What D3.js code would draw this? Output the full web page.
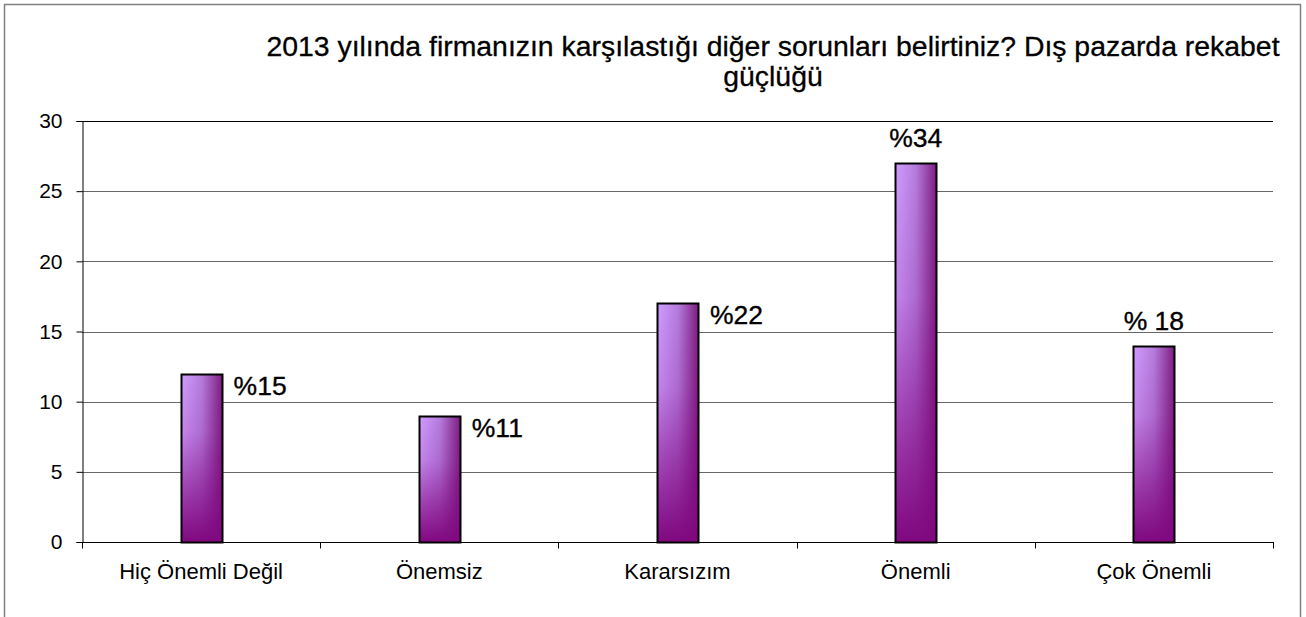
<!DOCTYPE html>
<html><head><meta charset="utf-8">
<script src="https://cdn.jsdelivr.net/npm/d3@7"></script>
<style>body{margin:0;background:#fff;font-family:Arial,"Liberation Sans",sans-serif;}</style>
</head><body><svg id="c" width="1306" height="617"></svg>
<script>
const categories = ["Hiç Önemli Değil","Önemsiz","Kararsızım","Önemli","Çok Önemli"];
const values = [12, 9, 17, 27, 14];
const labels = ["%15","%11","%22","%34","% 18"];
const labelPos = ["right","right","right","top","top"];
const yTicks = [0,5,10,15,20,25,30];
const titleLines = ["2013 yılında firmanızın karşılastığı diğer sorunları belirtiniz? Dış pazarda rekabet","güçlüğü"];

const svg = d3.select("#c");
const L=82, R=1273, T=121, B=542;
const x = d3.scaleBand().domain(categories).range([L,R]);
const y = d3.scaleLinear().domain([0,30]).range([B,T]);

// frame
svg.append("path").attr("d","M4.5,620 V4.5 H1300.5 V620").attr("fill","none").attr("stroke","#808080").attr("stroke-width",1.5);

const defs = svg.append("defs");
const gh = defs.append("linearGradient").attr("id","gh").attr("x1",0).attr("x2",1).attr("y1",0).attr("y2",0);
gh.append("stop").attr("offset","0%").attr("stop-color","#d09cff");
gh.append("stop").attr("offset","50%").attr("stop-color","#b47cdc");
gh.append("stop").attr("offset","100%").attr("stop-color","#7e1c80");
const gv = defs.append("linearGradient").attr("id","gv").attr("x1",0).attr("x2",0).attr("y1",0).attr("y2",1);
gv.append("stop").attr("offset","0%").attr("stop-color","#800080").attr("stop-opacity",0);
gv.append("stop").attr("offset","35%").attr("stop-color","#800080").attr("stop-opacity",0.15);
gv.append("stop").attr("offset","100%").attr("stop-color","#80087f").attr("stop-opacity",1);

// gridlines
svg.append("g").selectAll("line").data(yTicks.filter(d=>d>0)).join("line")
  .attr("x1",L).attr("x2",R).attr("y1",d=>Math.round(y(d))+0.5).attr("y2",d=>Math.round(y(d))+0.5)
  .attr("stroke",d=>d===30?"#000":"#666").attr("stroke-width",1);

// y axis
const ya = svg.append("g").attr("transform",`translate(${L+0.5},0)`)
  .call(d3.axisLeft(y).tickValues(yTicks).tickSize(6).tickPadding(14));
ya.select(".domain").attr("stroke","#000");
ya.selectAll("text").attr("font-size",21).attr("font-family","Arial,'Liberation Sans',sans-serif").attr("fill","#000");

// x axis
const xa = svg.append("g").attr("transform",`translate(0,${B+0.5})`);
xa.append("line").attr("x1",L).attr("x2",R+1).attr("stroke","#000");
const bounds = d3.range(categories.length+1).map(i=>L+i*x.step());
xa.selectAll(".tk").data(bounds).join("line").attr("class","tk")
  .attr("x1",d=>Math.round(d)+0.5).attr("x2",d=>Math.round(d)+0.5).attr("y1",0).attr("y2",6).attr("stroke","#000");
xa.selectAll("text").data(categories).join("text")
  .attr("x",d=>x(d)+x.bandwidth()/2).attr("y",36).attr("text-anchor","middle")
  .attr("font-size",22).attr("fill","#000").text(d=>d);

// bars
const bw = 41;
const bars = svg.append("g");
categories.forEach((c,i)=>{
  const cx = x(c)+x.bandwidth()/2;
  const x0 = Math.round(cx-bw/2)+0.5, y0 = Math.round(y(values[i]))+0.5, h = B-y0+0.5;
  bars.append("rect").attr("x",x0).attr("y",y0).attr("width",bw).attr("height",h).attr("fill","url(#gh)");
  bars.append("rect").attr("x",x0).attr("y",y0).attr("width",bw).attr("height",h).attr("fill","url(#gv)")
    .attr("stroke","#000").attr("stroke-width",2);
});

// labels
svg.append("g").selectAll("text").data(categories).join("text")
  .attr("x",(d,i)=>{const cx=x(d)+x.bandwidth()/2; return labelPos[i]==="top"?cx:cx+bw/2+12;})
  .attr("y",(d,i)=>labelPos[i]==="top"?y(values[i])-16:y(values[i])+21)
  .attr("text-anchor",(d,i)=>labelPos[i]==="top"?"middle":"start")
  .attr("font-size",26.5).attr("fill","#000").attr("stroke","#000").attr("stroke-width",0.35)
  .text((d,i)=>labels[i]);

// title
svg.append("g").selectAll("text").data(titleLines).join("text")
  .attr("x",773).attr("y",(d,i)=>56+i*30).attr("text-anchor","middle")
  .attr("font-size",28.4).attr("fill","#000").attr("stroke","#000").attr("stroke-width",0.3).text(d=>d);
</script></body></html>
